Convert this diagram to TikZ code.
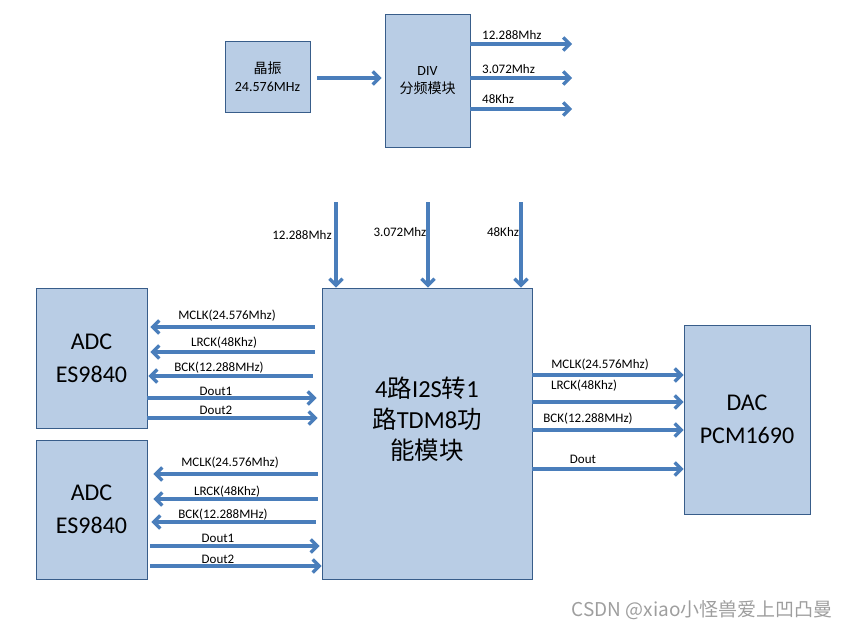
\documentclass[tikz,border=0pt]{standalone}
\usepackage{fontspec}
\setmainfont{Carlito}
\newfontfamily\cjk{Noto Sans CJK SC}
\usetikzlibrary{arrows.meta}
\definecolor{boxfill}{RGB}{185,205,229}
\definecolor{boxline}{RGB}{56,93,138}
\definecolor{arrowc}{RGB}{74,126,187}
\begin{document}
\begin{tikzpicture}[x=1pt,y=-1pt,
  box/.style={draw=boxline, fill=boxfill, line width=0.9pt, inner sep=0pt, align=center},
  arr/.style={draw=arrowc, line width=3.3pt, -{Straight Barb[length=6.5pt,width=13pt]}},
  lbl/.style={font=\fontsize{13}{15}\selectfont, inner sep=0pt},
  big/.style={font=\fontsize{24}{33}\selectfont}]
\useasboundingbox (0,0) rectangle (848,629);
% boxes
\node[box, minimum width=85pt, minimum height=71pt, font=\fontsize{14}{18}\selectfont] (xtal) at (267.5,76.5) {{\cjk 晶振}\\24.576MHz};
\node[box, minimum width=85pt, minimum height=133pt, font=\fontsize{14}{18}\selectfont] (div) at (427.5,80.5) {DIV\\{\cjk 分频模块}};
\node[box, minimum width=210pt, minimum height=291pt] (main) at (427,433.5) {};
\node[align=center, font=\fontsize{24.5}{31}\selectfont, inner sep=0pt] (maintxt) at (427,419) {4{\cjk 路}I2S{\cjk 转}1\\{\cjk 路}TDM8{\cjk 功}\\{\cjk 能模块}};
\node[box, big, minimum width=111pt, minimum height=140pt] (adc1) at (91.5,358) {ADC\\ES9840};
\node[box, big, minimum width=111pt, minimum height=139pt] (adc2) at (91.5,509.5) {ADC\\ES9840};
\node[box, big, minimum width=126pt, minimum height=189pt] (dac) at (747,419.5) {DAC\\PCM1690};
% xtal -> div
\draw[arr] ([xshift=7pt]xtal.east |- 0,78) -- ([xshift=-3pt]div.west |- 0,78);
% div outputs
\coordinate (o1) at (572,44);
\coordinate (o2) at (572,78);
\coordinate (o3) at (572,109);
\draw[arr] (div.east |- o1) -- (o1);
\draw[arr] (div.east |- o2) -- (o2);
\draw[arr] (div.east |- o3) -- (o3);
\node[lbl, anchor=west] (l1) at (482,35) {12.288Mhz};
\node[lbl, anchor=west] (l2) at (482,69) {3.072Mhz};
\node[lbl, anchor=west] (l3) at (482,99) {48Khz};
% down arrows into main
\coordinate (d1) at (336,202);
\coordinate (d2) at (428,202);
\coordinate (d3) at (521,202);
\draw[arr] (d1) -- (d1 |- main.north);
\draw[arr] (d2) -- (d2 |- main.north);
\draw[arr] (d3) -- (d3 |- main.north);
\node[lbl] (dl1) at (302,235) {12.288Mhz};
\node[lbl] (dl2) at (400,232) {3.072Mhz};
\node[lbl] (dl3) at (503,232) {48Khz};
% ADC1
\draw[arr] ([xshift=-7pt]main.west |- 0,327) -- ([xshift=3pt]adc1.east |- 0,327);
\draw[arr] ([xshift=-7pt]main.west |- 0,352) -- ([xshift=3pt]adc1.east |- 0,352);
\draw[arr] ([xshift=-9pt]main.west |- 0,376) -- ([xshift=1pt]adc1.east |- 0,376);
\draw[arr] (adc1.east |- 0,398) -- ([xshift=-5pt]main.west |- 0,398);
\draw[arr] (adc1.east |- 0,418) -- ([xshift=-4pt]main.west |- 0,418);
\node[lbl] (a1) at (227,316) {MCLK(24.576Mhz)};
\node[lbl] (a2) at (224,343) {LRCK(48Khz)};
\node[lbl] (a3) at (219,368) {BCK(12.288MHz)};
\node[lbl] (a4) at (216,391) {Dout1};
\node[lbl] (a5) at (216,410) {Dout2};
% ADC2
\draw[arr] ([xshift=-4pt]main.west |- 0,474) -- ([xshift=6pt]adc2.east |- 0,474);
\draw[arr] ([xshift=-4pt]main.west |- 0,499) -- ([xshift=6pt]adc2.east |- 0,499);
\draw[arr] ([xshift=-6pt]main.west |- 0,522) -- ([xshift=4pt]adc2.east |- 0,522);
\draw[arr] ([xshift=3pt]adc2.east |- 0,546) -- ([xshift=-2pt]main.west |- 0,546);
\draw[arr] ([xshift=3pt]adc2.east |- 0,566) -- (main.west |- 0,566);
\node[lbl] (b1) at (230,463) {MCLK(24.576Mhz)};
\node[lbl] (b2) at (227,492) {LRCK(48Khz)};
\node[lbl] (b3) at (223,515) {BCK(12.288MHz)};
\node[lbl] (b4) at (218,538) {Dout1};
\node[lbl] (b5) at (218,559) {Dout2};
% DAC
\draw[arr] (main.east |- 0,375) -- (dac.west |- 0,375);
\draw[arr] (main.east |- 0,402) -- (dac.west |- 0,402);
\draw[arr] (main.east |- 0,430) -- (dac.west |- 0,430);
\draw[arr] (main.east |- 0,469) -- (dac.west |- 0,469);
\node[lbl] (c1) at (600,365) {MCLK(24.576Mhz)};
\node[lbl] (c2) at (584,386) {LRCK(48Khz)};
\node[lbl] (c3) at (588,419) {BCK(12.288MHz)};
\node[lbl] (c4) at (583,459) {Dout};
% watermark
\node[anchor=east, inner sep=0pt, text=black!38, font=\cjk\fontsize{19}{22}\selectfont] (wm) at (833,610) {CSDN @xiao小怪兽爱上凹凸曼};
\end{tikzpicture}
\end{document}
